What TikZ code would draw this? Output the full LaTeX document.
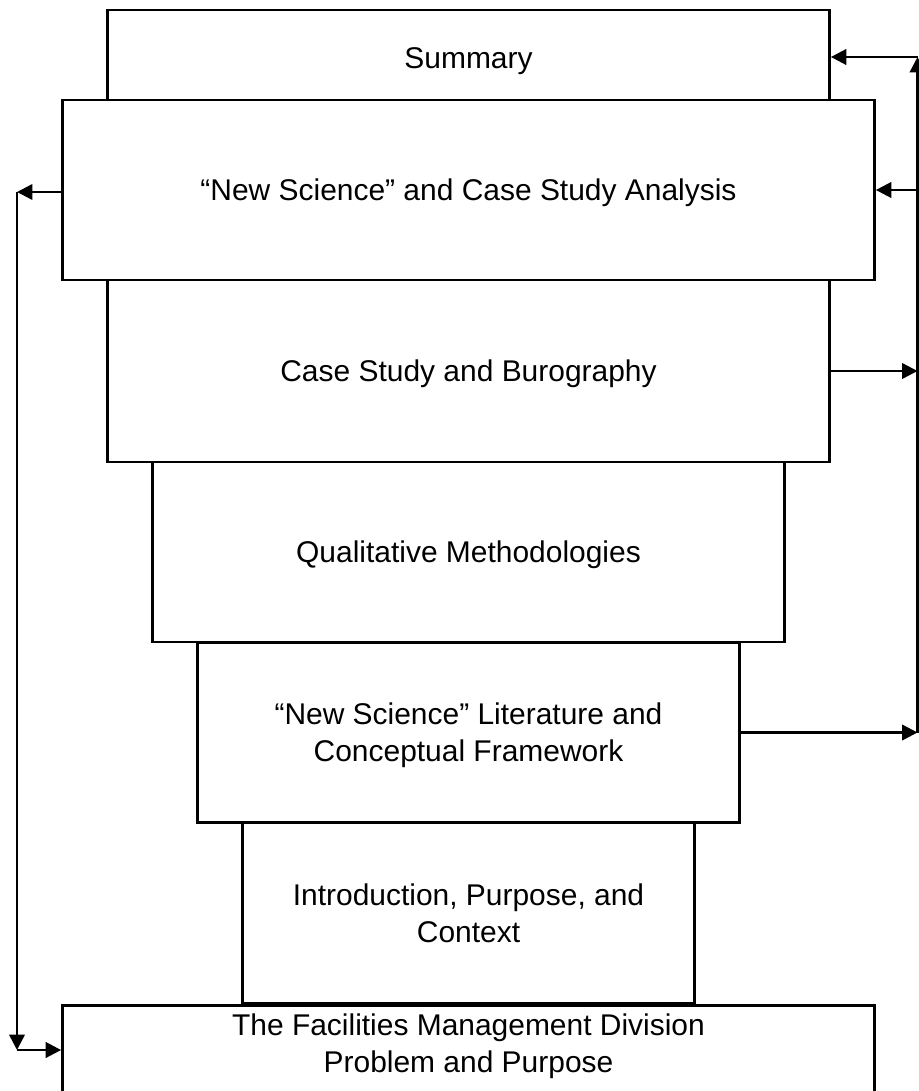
\documentclass[tikz,border=0pt]{standalone}
\usepackage{fontspec}
\setmainfont{Liberation Sans}
\usetikzlibrary{arrows.meta,positioning,calc}

\begin{document}
\begin{tikzpicture}[x=0.025cm,y=-0.025cm,->,>={Triangle[length=11pt,width=11pt]},
                    line width=1.8pt,
                    every node/.style={font=\fontsize{21.3}{26.5}\selectfont,align=center},
                    box/.style={draw,fill=white,-,minimum height=4.5cm,inner sep=0pt,text depth=0pt}]
  \clip (0,0) rectangle (919,1091);

  \node[box,minimum width=18.05cm,minimum height=2.25cm,text height=19pt] (sum) at (468.5,55)  {Summary};
  \node[box,minimum width=20.3cm] (nsa)   at (468.5,190)   {“New Science” and Case Study Analysis};
  \node[box,minimum width=18.05cm,minimum height=4.55cm] (csb) at (468.5,371) {Case Study and Burography};
  \node[box,minimum width=15.8cm] (qual)  at (468.5,552)   {Qualitative Methodologies};
  \node[box,minimum width=13.55cm] (lit)  at (468.5,732.5) {“New Science” Literature and\\Conceptual Framework};
  \node[box,minimum width=11.3cm] (intro) at (468.5,913)   {Introduction, Purpose, and\\Context};
  \node[box,minimum width=20.3cm,anchor=north] (fmd) at (468.5,1004) {};
  \node at (468.5,1046) (fmdtxt) {The Facilities Management Division\\Problem and Purpose};

  % right side feedback
  \coordinate (rtop) at (917.5,57);
  \coordinate (rbot) at (rtop |- lit.east);
  \draw (csb.east) -- (csb.east -| rtop);
  \draw (lit.east) -- (rbot);
  \draw (rbot) -- (rtop);
  \draw (rtop) -- (sum.east |- rtop);
  \draw (rtop |- nsa.east) -- (nsa.east);

  % left side loop
  \coordinate (ltop) at (17,192);
  \coordinate (lbot) at (17,1050);
  \draw (nsa.west |- ltop) -- (ltop);
  \draw (ltop) -- (lbot);
  \draw (lbot) -- (lbot -| fmd.west);
\end{tikzpicture}
\end{document}
